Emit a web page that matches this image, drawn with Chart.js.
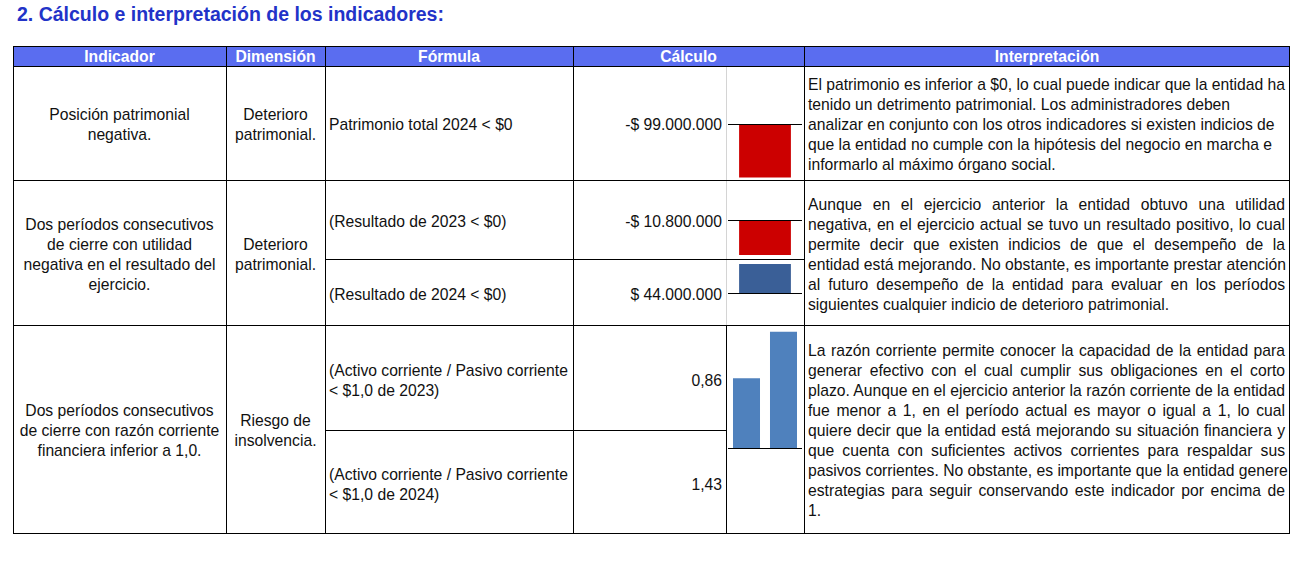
<!DOCTYPE html>
<html lang="es">
<head>
<meta charset="utf-8">
<title>Indicadores</title>
<script src="https://cdn.jsdelivr.net/npm/chart.js@4/dist/chart.umd.min.js"></script>
<style>
  body { margin: 0; background: #fff; }
  #hoja { position: relative; width: 1299px; height: 566px; overflow: hidden;
          font-family: "Liberation Sans", Arial, sans-serif; color: #111; }
  .titulo { position: absolute; left: 17px; top: 3px; font-size: 19.5px; font-weight: bold; color: #2233c8; white-space: nowrap; }
  .celda { position: absolute; display: flex; flex-direction: column; justify-content: center;
           font-size: 15.7px; line-height: 20px; box-sizing: border-box; padding-top: 4px; }
  .celda div { white-space: nowrap; }
  .cab { background: #5a6df0; color: #fff; font-weight: bold; text-align: center; line-height: 20px; padding-top: 2px; }
  .centro { text-align: center; }
  .izq { text-align: left; padding-left: 4px; }
  .der { text-align: right; padding-right: 4px; }
  .just { padding-left: 4px; padding-right: 4px; }
  .just div { text-align: justify; text-align-last: justify; }
  .just div.fin { text-align-last: left; }
  .linea { position: absolute; background: #000; }
  canvas { position: absolute; }
</style>
</head>
<body>
<div id="hoja">
  <div class="titulo">2. Cálculo e interpretación de los indicadores:</div>
</div>

<script>
// datos de los indicadores
var patrimonioLabels = ['2024'];
var patrimonioValues = [-99000000];

var resultadoLabels = ['2023', '2024'];
var resultadoValues = [-10800000, 44000000];

var razonLabels = ['2023', '2024'];
var razonValues = [0.86, 1.43];

var hoja = document.getElementById('hoja');

function moneda(v) {
    var s = Math.abs(v).toString().replace(/\B(?=(\d{3})+(?!\d))/g, '.');
    return (v < 0 ? '-' : '') + '$ ' + s;
}
function decimal(v) {
    return v.toFixed(2).replace('.', ',');
}

function celda(x1, y1, x2, y2, clase, lineas) {
    var d = document.createElement('div');
    d.className = 'celda ' + clase;
    d.style.left = x1 + 'px';
    d.style.top = y1 + 'px';
    d.style.width = (x2 - x1) + 'px';
    d.style.height = (y2 - y1) + 'px';
    lineas.forEach(function (t, i) {
        var l = document.createElement('div');
        l.textContent = t;
        if (i == lineas.length - 1) l.className = 'fin';
        d.appendChild(l);
    });
    hoja.appendChild(d);
}

function linea(x, y, w, h, color) {
    var d = document.createElement('div');
    d.className = 'linea';
    d.style.left = x + 'px';
    d.style.top = y + 'px';
    d.style.width = w + 'px';
    d.style.height = h + 'px';
    if (color) d.style.background = color;
    hoja.appendChild(d);
}

// encabezado
celda(13, 46, 1290, 66, 'cab', ['']);
celda(13, 46, 226, 66, 'cab', ['Indicador']);
celda(226, 46, 325, 66, 'cab', ['Dimensión']);
celda(325, 46, 573, 66, 'cab', ['Fórmula']);
celda(573, 46, 804, 66, 'cab', ['Cálculo']);
celda(804, 46, 1290, 66, 'cab', ['Interpretación']);

// fila 1
celda(13, 66, 226, 180, 'centro', ['Posición patrimonial', 'negativa.']);
celda(226, 66, 325, 180, 'centro', ['Deterioro', 'patrimonial.']);
celda(325, 66, 573, 180, 'izq', ['Patrimonio total 2024 < $0']);
celda(573, 66, 726, 180, 'der', [moneda(patrimonioValues[0])]);
celda(804, 66, 1289, 180, 'izq', [
    'El patrimonio es inferior a $0, lo cual puede indicar que la entidad ha',
    'tenido un detrimento patrimonial. Los administradores deben',
    'analizar en conjunto con los otros indicadores si existen indicios de',
    'que la entidad no cumple con la hipótesis del negocio en marcha e',
    'informarlo al máximo órgano social.'
]);

// fila 2
celda(13, 180, 226, 325, 'centro', ['Dos períodos consecutivos', 'de cierre con utilidad', 'negativa en el resultado del', 'ejercicio.']);
celda(226, 180, 325, 325, 'centro', ['Deterioro', 'patrimonial.']);
celda(325, 180, 573, 260, 'izq', ['(Resultado de ' + resultadoLabels[0] + ' < $0)']);
celda(325, 260, 573, 326, 'izq', ['(Resultado de ' + resultadoLabels[1] + ' < $0)']);
celda(573, 180, 726, 260, 'der', [moneda(resultadoValues[0])]);
celda(573, 260, 726, 326, 'der', [moneda(resultadoValues[1])]);
celda(804, 180, 1289, 325, 'just', [
    'Aunque en el ejercicio anterior la entidad obtuvo una utilidad',
    'negativa, en el ejercicio actual se tuvo un resultado positivo, lo cual',
    'permite decir que existen indicios de que el desempeño de la',
    'entidad está mejorando. No obstante, es importante prestar atención',
    'al futuro desempeño de la entidad para evaluar en los períodos',
    'siguientes cualquier indicio de deterioro patrimonial.'
]);

// fila 3
celda(13, 325, 226, 533, 'centro', ['Dos períodos consecutivos', 'de cierre con razón corriente', 'financiera inferior a 1,0.']);
celda(226, 325, 325, 533, 'centro', ['Riesgo de', 'insolvencia.']);
celda(325, 325, 573, 432, 'izq', ['(Activo corriente / Pasivo corriente', '< $1,0 de ' + razonLabels[0] + ')']);
celda(325, 430, 573, 536, 'izq', ['(Activo corriente / Pasivo corriente', '< $1,0 de ' + razonLabels[1] + ')']);
celda(573, 325, 726, 432, 'der', [decimal(razonValues[0])]);
celda(573, 430, 726, 536, 'der', [decimal(razonValues[1])]);
celda(804, 325, 1289, 533, 'just', [
    'La razón corriente permite conocer la capacidad de la entidad para',
    'generar efectivo con el cual cumplir sus obligaciones en el corto',
    'plazo. Aunque en el ejercicio anterior la razón corriente de la entidad',
    'fue menor a 1, en el período actual es mayor o igual a 1, lo cual',
    'quiere decir que la entidad está mejorando su situación financiera y',
    'que cuenta con suficientes activos corrientes para respaldar sus',
    'pasivos corrientes. No obstante, es importante que la entidad genere',
    'estrategias para seguir conservando este indicador por encima de',
    '1.'
]);

// bordes
linea(726, 66, 1, 259, '#d4d4d4');
[46, 66, 180, 325, 533].forEach(function (y) { linea(13, y, 1277, 1); });
linea(325, 259, 479, 1);
linea(325, 430, 401, 1);
[13, 226, 325, 573, 804, 1289].forEach(function (x) { linea(x, 46, 1, 488); });
linea(726, 325, 1, 208);

// linea del cero, dibujada con la escala y
var lineaCero = {
    id: 'lineaCero',
    afterDatasetsDraw(chart) {
        var ctx = chart.ctx;
        var y = Math.round(chart.scales.y.getPixelForValue(0)) + 0.5;
        ctx.save();
        ctx.strokeStyle = '#000';
        ctx.lineWidth = 1;
        ctx.beginPath();
        ctx.moveTo(chart.chartArea.left, y);
        ctx.lineTo(chart.chartArea.right, y);
        ctx.stroke();
        ctx.restore();
    }
};

function miniGrafico(x, y, w, h, labels, values, colores, min, max, ancho) {
    var c = document.createElement('canvas');
    c.width = w;
    c.height = h;
    c.style.left = x + 'px';
    c.style.top = y + 'px';
    hoja.appendChild(c);
    return new Chart(c, {
        type: 'bar',
        data: {
            labels: labels,
            datasets: [{
                data: values,
                backgroundColor: colores,
                borderWidth: 0,
                barPercentage: ancho,
                categoryPercentage: 1
            }]
        },
        options: {
            responsive: false,
            animation: false,
            events: [],
            layout: { padding: { left: 2, right: 2, top: 0, bottom: 0 } },
            plugins: {
                legend: { display: false },
                tooltip: { enabled: false }
            },
            scales: {
                x: { display: false },
                y: { display: false, min: min, max: max }
            }
        },
        plugins: [lineaCero]
    });
}

miniGrafico(726, 70, 78, 108, patrimonioLabels, patrimonioValues, ['#cc0000'], -100000000, 100000000, 0.7);
miniGrafico(726, 181, 78, 78, [resultadoLabels[0]], [resultadoValues[0]], ['#cc0000'], -12000000, 12000000, 0.7);
miniGrafico(726, 260, 78, 66, [resultadoLabels[1]], [resultadoValues[1]], ['#3a5f97'], -50000000, 50000000, 0.7);
miniGrafico(726, 326, 78, 204, razonLabels, razonValues, ['#4f81bd', '#4f81bd'], -1, 1.5, 0.73);
</script>
</body>
</html>
